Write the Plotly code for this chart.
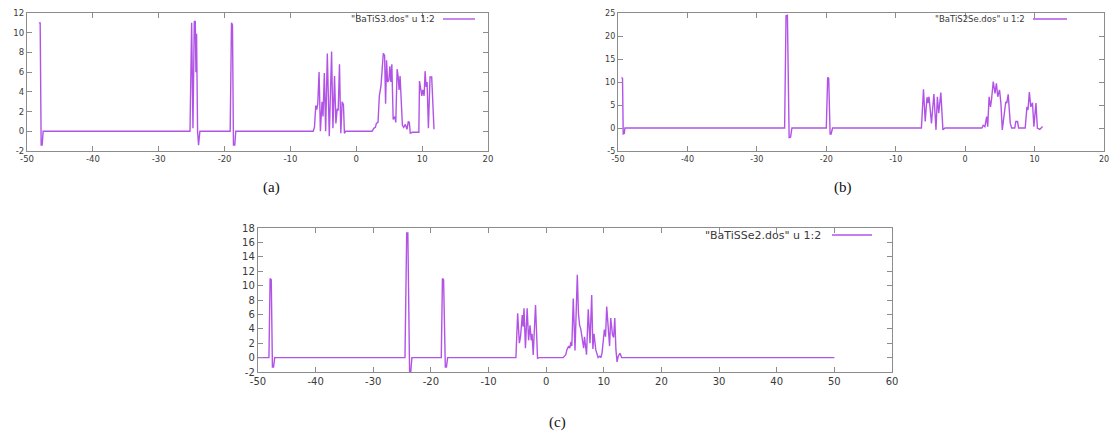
import plotly.graph_objects as go

# ---------------- data ----------------
a_x = [-48.2, -48.0, -47.85, -47.7, -47.55,
       -25.25, -25.0, -24.8, -24.6, -24.45, -24.35, -24.25, -24.1, -23.95, -23.75,
       -19.15, -18.95, -18.8, -18.65, -18.45, -18.3,
       -6.55, -6.35, -6.15, -6.0, -5.85, -5.65, -5.45, -5.2, -5.05, -4.85, -4.65, -4.4,
       -4.1, -3.75, -3.55, -3.3, -3.1, -2.9, -2.75, -2.55, -2.35, -2.15, -1.95, -1.8, -1.6,
       2.4, 2.65, 2.9, 3.05, 3.3, 3.5, 3.75, 4.1, 4.3, 4.45, 4.6, 4.75, 4.95, 5.1, 5.25,
       5.4, 5.6, 5.85, 6.0, 6.2, 6.35, 6.5, 6.65, 6.85, 7.0, 7.2, 7.45, 7.7, 7.9, 8.05,
       8.2, 8.5,
       9.5, 9.6, 9.8, 9.95, 10.1, 10.3, 10.45, 10.6, 10.75, 10.95, 11.2, 11.45, 11.8]
a_y = [11.0, 11.0, -1.4, -1.4, 0.0,
       0.0, 11.0, 0.3, 11.1, 11.2, 6.0, 9.9, 0.0, -1.4, 0.0,
       0.0, 11.0, 10.8, -1.4, -1.4, 0.0,
       0.0, 0.4, 2.6, 2.2, 2.8, 6.0, 0.0, 3.0, 1.5, 5.9, 0.0, 7.9,
       -0.5, 8.1, 0.3, 5.6, 0.8, 2.3, 2.1, 6.8, -0.2, 3.0, 2.7, -0.2, 0.0,
       0.0, 0.3, 0.4, 0.8, 0.9, 3.6, 4.6, 7.9, 7.7, 2.8, 7.2, 5.0, 5.2, 6.6, 5.0,
       6.8, 1.2, 1.5, 0.9, 6.3, 5.6, 4.2, 5.6, 2.0, 0.6, 0.4, 0.7, 0.2, 1.0, 0.9,
       -0.2, -0.1,
       -0.1, 5.1, 4.4, 3.6, 4.2, 3.6, 6.1, 4.5, 5.0, 0.3, 5.5, 5.5, 0.2]

b_x = [-49.5, -49.35, -49.25, -49.1, -49.0,
       -26.0, -25.8, -25.6, -25.35, -25.15, -24.95,
       -20.0, -19.8, -19.65, -19.45, -19.3, -19.1,
       -6.3, -6.0, -5.75, -5.5, -5.35, -5.2, -4.85, -4.5, -4.2, -4.0, -3.8, -3.5, -3.2, -2.9,
       2.4, 2.6, 2.85, 3.1, 3.25, 3.45, 3.65, 3.8, 4.05, 4.3, 4.5, 4.7, 4.95, 5.15, 5.35,
       5.85, 6.0, 6.2, 6.5, 6.7, 7.15, 7.3, 7.55, 7.7, 8.65, 8.9, 9.05, 9.25, 9.45, 9.7,
       9.9, 10.2, 10.4, 10.75, 11.15]
b_y = [11.0, 10.8, -1.3, -1.2, 0.0,
       0.0, 24.4, 24.5, -2.1, -2.0, 0.0,
       0.0, 11.0, 10.8, -1.3, -1.3, 0.0,
       0.0, 8.4, 1.4, 6.7, 5.4, 6.8, 1.0, 7.4, -0.4, 6.8, 3.2, 7.7, -0.4, 0.0,
       0.0, 0.6, 0.3, 2.5, 0.3, 6.8, 4.6, 6.2, 10.1, 7.5, 9.7, 6.8, 8.3, 5.4, -0.4,
       5.7, 5.4, 7.3, 1.0, 0.0, 0.0, 1.4, 1.4, 0.0, 0.0, 4.6, 3.9, 7.8, 4.6, 5.5,
       0.3, 5.4, 0.0, -0.3, 0.3]

c_x = [-50.0, -48.1, -47.9, -47.7, -47.5, -47.3, -47.1,
       -24.5, -24.2, -24.0, -23.7, -23.5, -23.3,
       -18.2, -18.0, -17.8, -17.5, -17.3, -17.1,
       -5.25, -4.95, -4.65, -4.45, -4.15, -4.0, -3.85, -3.6, -3.3, -3.05, -2.8, -2.6,
       -2.45, -2.25, -1.85, -1.5, -1.2,
       2.95, 3.1, 3.4, 3.6, 3.9, 4.1, 4.3, 4.45, 4.7, 5.0, 5.4, 5.6, 5.8, 6.0, 6.3,
       6.5, 6.65, 7.0, 7.3, 7.6, 7.9, 8.1, 8.3, 8.6, 9.0, 9.3, 9.5, 9.7, 10.1, 10.3,
       10.5, 10.7, 11.0, 11.2, 11.5, 11.7, 11.9, 12.1, 12.3, 12.5, 12.8, 13.1, 50.0]
c_y = [0.0, 0.0, 11.0, 10.8, -1.3, -1.3, 0.0,
       0.0, 17.3, 17.3, -2.0, -2.0, 0.0,
       0.0, 11.0, 10.8, -1.3, -1.3, 0.0,
       0.0, 6.15, 2.0, 2.9, 5.9, 4.3, 6.85, 1.3, 6.85, 2.4, 4.5, 2.4,
       3.3, 0.35, 7.3, -0.1, 0.0,
       0.0, 0.2, 0.4, 1.1, 1.6, 1.3, 2.2, 1.6, 8.2, 1.0, 11.5, 6.1, 4.5, 4.0, 2.4,
       1.3, 2.9, 0.4, 6.7, 2.0, 8.7, 1.2, 3.3, 1.1, 0.0, 0.2, 0.0, 0.7, 3.9, 2.9,
       7.1, 4.3, 1.6, 5.5, 3.2, 2.8, 5.5, 1.1, -0.6, 0.2, 0.6, 0.0, 0.0]

a_name = '"BaTiS3.dos" u 1:2'
b_name = '"BaTiS2Se.dos" u 1:2'
c_name = '"BaTiSSe2.dos" u 1:2'
labels = ["(a)", "(b)", "(c)"]

# tick values (gnuplot prints a plain hyphen for negatives)
ab_xticks = [-50, -40, -30, -20, -10, 0, 10, 20]
a_yticks = [-2, 0, 2, 4, 6, 8, 10, 12]
b_yticks = [-5, 0, 5, 10, 15, 20, 25]
c_xticks = [-50, -40, -30, -20, -10, 0, 10, 20, 30, 40, 50, 60]
c_yticks = [-2, 0, 2, 4, 6, 8, 10, 12, 14, 16, 18]

# ---------------- layout helpers ----------------
W, H = 1110, 432
def fx(px):
    return px / W
def fy(py):
    return 1 - py / H

LINE = "#b154e6"
FRAME = "#8c8c8c"
TXT = "#3a3a3a"
FONT = "DejaVu Sans"

fig = go.Figure()
for xs, ys, xa, ya in [(a_x, a_y, "x", "y"), (b_x, b_y, "x2", "y2"), (c_x, c_y, "x3", "y3")]:
    fig.add_trace(go.Scatter(x=xs, y=ys, mode="lines", line=dict(color=LINE, width=1.4),
                             xaxis=xa, yaxis=ya, showlegend=False, hoverinfo="skip"))

def axis(domain, rng, ticks, anchor, size):
    return dict(domain=domain, range=rng, tickmode="array", tickvals=ticks,
                ticktext=[str(t) for t in ticks], anchor=anchor, automargin=False,
                showgrid=False, zeroline=False, showline=True, linecolor=FRAME,
                linewidth=1.3, mirror="ticks", ticks="inside", ticklen=5,
                tickcolor=FRAME, tickwidth=1,
                tickfont=dict(family=FONT, size=size, color=TXT))

fig.update_layout(
    width=W, height=H, margin=dict(l=0, r=0, t=0, b=0, autoexpand=False),
    paper_bgcolor="white", plot_bgcolor="white",
    xaxis=axis([fx(27), fx(488)], [-50, 20], ab_xticks, "y", 8.5),
    yaxis=axis([fy(151), fy(13)], [-2, 12], a_yticks, "x", 8.5),
    xaxis2=axis([fx(618), fx(1104)], [-50, 20], ab_xticks, "y2", 8),
    yaxis2=axis([fy(151), fy(13)], [-5, 25], b_yticks, "x2", 8),
    xaxis3=axis([fx(258), fx(892)], [-50, 60], c_xticks, "y3", 10),
    yaxis3=axis([fy(372), fy(228)], [-2, 18], c_yticks, "x3", 10),
)

# gnuplot style key: text right-aligned, sample line to the right
keys = [(a_name, 437, 443, 475, 19, 9),
        (b_name, 1027, 1033, 1067, 19, 8.5),
        (c_name, 823, 832, 872, 235, 11)]
for name, tx, l0, l1, ky, fs in keys:
    fig.add_annotation(text=name, x=fx(tx), y=fy(ky), xref="paper", yref="paper",
                       xanchor="right", yanchor="middle", showarrow=False,
                       font=dict(family=FONT, size=fs, color=TXT))
    fig.add_shape(type="line", xref="paper", yref="paper", x0=fx(l0), x1=fx(l1),
                  y0=fy(ky), y1=fy(ky), line=dict(color=LINE, width=1.4))

for lab, cx, cy in zip(labels, [271, 843, 557], [188, 188, 422]):
    fig.add_annotation(text=lab, x=fx(cx), y=fy(cy), xref="paper", yref="paper",
                       xanchor="center", yanchor="middle", showarrow=False,
                       font=dict(family="Liberation Serif", size=15, color="#111"))

fig.write_html("out.html", config={"displayModeBar": False},
               post_script="document.body.style.margin='0';document.body.style.overflow='hidden';")
